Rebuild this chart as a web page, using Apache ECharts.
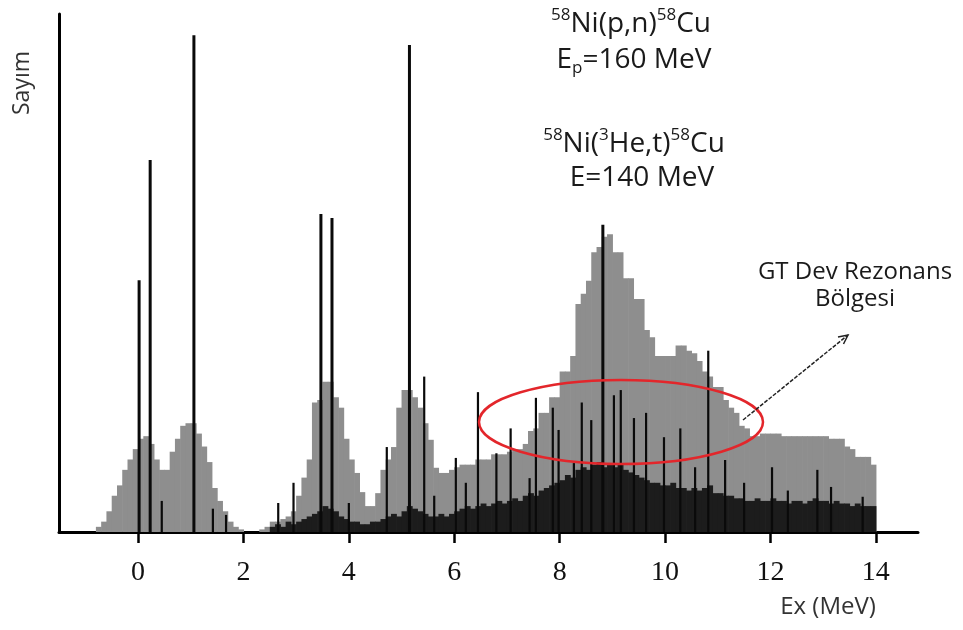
<!DOCTYPE html>
<html>
<head>
<meta charset="utf-8">
<script src="https://cdn.jsdelivr.net/npm/echarts@6/dist/echarts.min.js"></script>
<style>
  html, body { margin: 0; padding: 0; background: #fff; }
  #chart { width: 963px; height: 630px; }
</style>
</head>
<body>
<div id="chart"></div>
<script>
// Histogram bins (MeV)
const binWidth = 0.1;

// 58Ni(p,n) spectrum, gray histogram, bins from -1.0 MeV
const grayStart = -1.0;
const grayCounts = [
    0, 0, 1, 2, 4, 7, 9, 12, 14, 16,
    18, 18.5, 17, 14, 12, 12, 15.5, 18, 20.5, 21,
    21, 19, 16.5, 13.5, 8.5, 6, 4, 2, 1, 0.5,
    0, 0, 0, 0.5, 1, 2, 2, 2.5, 3, 4,
    7, 10.5, 14, 25, 25.5, 29, 29, 26, 24, 18,
    14, 11.4, 7.7, 5, 5, 7.5, 12, 14, 16.4, 24,
    27.4, 27.4, 26, 24, 21, 17.8, 12.4, 11.4, 11.4, 12,
    12.5, 13, 13, 13, 14, 14, 14, 15, 15, 15,
    15.5, 16, 16, 17, 19.5, 20, 23, 23, 26, 26,
    31, 31, 34, 44, 46, 48.5, 54, 55, 57, 57.5,
    54, 54, 49, 49, 45, 45, 39, 37.6, 34, 34,
    34, 34, 36, 36, 35, 34.5, 33, 31, 30, 28,
    28, 25.5, 24, 23, 20.5, 20, 18.5, 18.5, 19, 19,
    19, 19, 18.5, 18.5, 18.5, 18.5, 18.5, 18.5, 18.5, 18.5,
    18.5, 18, 18, 18, 16.5, 16, 14.5, 14.5, 14.5, 13
];

// 58Ni(3He,t) unresolved dense part, bins from 2.5 MeV
const contStart = 2.5;
const contCounts = [
    1, 1.5, 1, 2, 1.5,
    2, 2.5, 3, 3.5, 4, 5, 4.5, 4, 3, 2.5,
    2, 2, 1.5, 1.5, 2, 2, 2.5, 3, 3.5, 3,
    4, 5, 4.5, 4, 3.5, 3, 3, 3.5, 3, 3.5,
    4, 4.5, 5, 4.5, 5, 5.5, 5, 5.5, 6, 5.5,
    6, 6.5, 6, 7, 7.5, 7, 8, 8.5, 9, 9.5,
    10, 11, 10.5, 12, 12.5, 12, 13, 13.5, 12.5, 13,
    12.5, 13, 12, 11.5, 11, 10.5, 10, 9.5, 9.5, 9,
    9, 9.5, 8.5, 8.5, 8, 8.5, 8, 8.5, 9, 7.5,
    7.5, 7, 7, 6.5, 6.5, 6, 6, 6.5, 6, 6,
    6.5, 6, 6, 5.5, 6, 6, 5.5, 6, 6.5, 6,
    6, 5.5, 6, 5.5, 5.5, 5, 5.5, 5, 5, 5
];

// 58Ni(3He,t) sharp peaks
const spikePos = [
    0.02, 0.23, 0.45, 1.06, 1.42, 1.67, 2.66, 2.95, 3.47, 3.68,
    4.0, 4.72, 5.15, 5.43, 5.62, 6.03, 6.22, 6.45, 6.8, 7.07,
    7.43, 7.55, 7.87, 7.98, 8.27, 8.42, 8.6, 8.82, 9.03, 9.16,
    9.41, 9.64, 9.98, 10.29, 10.57, 10.82, 11.14, 11.5, 12.03, 12.33,
    12.89, 13.15, 13.75
];
const spikeCounts = [
    48.6, 71.8, 6, 95.9, 4.5, 3.3, 5.6, 9.5, 61.4, 60.6,
    5.6, 16.4, 94, 30, 7, 14.3, 9.5, 27, 15.2, 20,
    10.4, 25.9, 24, 19.7, 13.3, 25, 21.6, 59.3, 26.4, 27.4,
    22, 23, 18.3, 20, 12.5, 35, 13.9, 9.5, 12.5, 8,
    12, 8.7, 6.8
];

const tickValues = [0, 2, 4, 6, 8, 10, 12, 14];

const chart = echarts.init(document.getElementById('chart'));

function histRenderer(color) {
    return function (params, api) {
        const x0 = api.value(0);
        const v = api.value(1);
        const a = api.coord([x0, v]);
        const b = api.coord([x0 + binWidth, 0]);
        return {
            type: 'rect',
            shape: { x: a[0], y: a[1], width: b[0] - a[0] + 0.6, height: b[1] - a[1] },
            style: { fill: color }
        };
    };
}

const grayData = grayCounts.map((v, i) => [grayStart + i * binWidth, v]);
const contData = contCounts.map((v, i) => [contStart + i * binWidth, v]);
const spikeData = spikePos.map((x, i) => [x, spikeCounts[i]]);

const textFont = '"Open Sans", "DejaVu Sans", sans-serif';
const richLine = {
    m: { fontSize: 28, fontFamily: textFont, lineHeight: 34, fill: '#1a1a1a' },
    sup: { fontSize: 17, fontFamily: textFont, lineHeight: 20, verticalAlign: 'top', fill: '#1a1a1a' },
    sub: { fontSize: 17, fontFamily: textFont, lineHeight: 20, verticalAlign: 'bottom', fill: '#1a1a1a' }
};

function label(text, x, y) {
    return {
        type: 'text', z: 100, x: x, y: y,
        style: { text: text, rich: richLine, align: 'center', verticalAlign: 'middle', fill: '#1a1a1a' }
    };
}

const option = {
    animation: false,
    grid: { left: 59, right: 45, top: 14, bottom: 98 },
    xAxis: {
        type: 'value',
        min: -1.5,
        max: 14.8,
        axisLine: { onZero: false, lineStyle: { color: '#000', width: 3 } },
        axisTick: {
            show: true,
            customValues: tickValues,
            length: 11,
            lineStyle: { color: '#000', width: 2.5 }
        },
        axisLabel: {
            customValues: tickValues,
            fontFamily: '"Liberation Serif", "DejaVu Serif", serif',
            fontSize: 28,
            color: '#111',
            margin: 27
        },
        splitLine: { show: false }
    },
    yAxis: {
        type: 'value',
        min: 0,
        max: 100,
        axisLine: { show: true, onZero: false, lineStyle: { color: '#000', width: 3 } },
        axisTick: { show: false },
        axisLabel: { show: false },
        splitLine: { show: false }
    },
    series: [
        {
            name: '(p,n)',
            type: 'custom',
            z: 1,
            renderItem: histRenderer('#8e8e8e'),
            encode: { x: 0, y: 1 },
            data: grayData
        },
        {
            name: '(3He,t) dense',
            type: 'custom',
            z: 2,
            renderItem: histRenderer('#1c1c1c'),
            encode: { x: 0, y: 1 },
            data: contData
        },
        {
            name: '(3He,t) peaks',
            type: 'custom',
            z: 3,
            renderItem: function (params, api) {
                const x = api.value(0);
                const v = api.value(1);
                const top = api.coord([x, v]);
                const base = api.coord([x, 0]);
                const w = v > 40 ? 3 : 2.2;
                return {
                    type: 'rect',
                    shape: { x: top[0] - w / 2, y: top[1], width: w, height: base[1] - top[1] },
                    style: { fill: '#0a0a0a' }
                };
            },
            encode: { x: 0, y: 1 },
            data: spikeData
        }
    ],
    graphic: [
        // axis names
        {
            type: 'text', z: 100, x: 22, y: 83, rotation: Math.PI / 2,
            style: { text: 'Sayım', font: '23px ' + textFont, fill: '#333', align: 'center', verticalAlign: 'middle' }
        },
        {
            type: 'text', z: 100, x: 828, y: 607,
            style: { text: 'Ex (MeV)', font: '24px ' + textFont, fill: '#333', align: 'center', verticalAlign: 'middle' }
        },
        // reaction labels
        label('{sup|58}{m|Ni(p,n)}{sup|58}{m|Cu}', 631, 24),
        label('{m|E}{sub|p}{m|=160 MeV}', 634, 60),
        label('{sup|58}{m|Ni(}{sup|3}{m|He,t)}{sup|58}{m|Cu}', 634, 144),
        label('{m|E=140 MeV}', 642, 178),
        // GT region
        {
            type: 'text', z: 100, x: 855, y: 272,
            style: { text: 'GT Dev Rezonans', font: '24px ' + textFont, fill: '#1a1a1a', align: 'center', verticalAlign: 'middle' }
        },
        {
            type: 'text', z: 100, x: 855, y: 299,
            style: { text: 'Bölgesi', font: '24px ' + textFont, fill: '#1a1a1a', align: 'center', verticalAlign: 'middle' }
        },
        {
            type: 'ellipse', z: 100,
            shape: { cx: 621, cy: 422, rx: 142, ry: 42 },
            style: { fill: 'none', stroke: '#e3262b', lineWidth: 2.5 }
        },
        {
            type: 'line', z: 100,
            shape: { x1: 743, y1: 420, x2: 848, y2: 335 },
            style: { stroke: '#222', lineWidth: 1.5, lineDash: [4, 1.5] }
        },
        {
            type: 'polyline', z: 100,
            shape: { points: [[838, 337], [848, 335], [843.5, 344]] },
            style: { stroke: '#222', lineWidth: 1.5, fill: 'none' }
        }
    ]
};

chart.setOption(option);
</script>
</body>
</html>
